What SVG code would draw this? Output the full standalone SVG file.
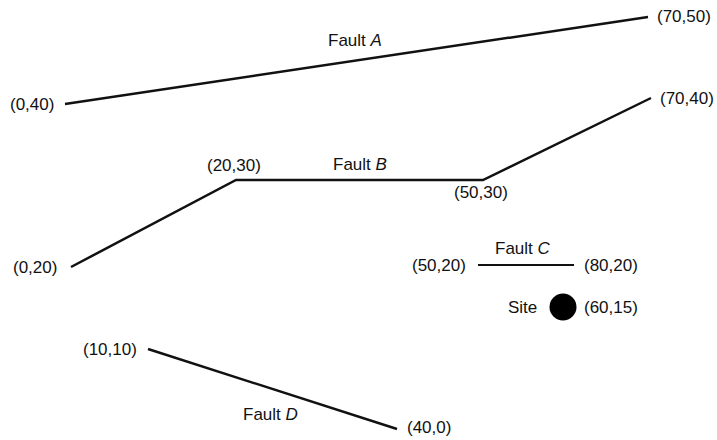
<svg xmlns="http://www.w3.org/2000/svg" width="717" height="440" viewBox="0 0 717 440">
<style>
text{font-family:"Liberation Sans",Arial,sans-serif;font-size:17px;fill:#111}
.i{font-style:italic}
.f{fill:none;stroke:#111;stroke-width:2.5;stroke-linejoin:miter;stroke-linecap:butt}
</style>
<rect width="717" height="440" fill="#fff"/>
<g id="connectors">
<path id="faultA" class="f" d="M65,104 L648,17"/>
<path id="faultB" class="f" d="M71,267 L236,180 L483,180 L651,98"/>
<path id="faultC" class="f" style="stroke-width:2" d="M478,265 L574,265"/>
<path id="faultD" class="f" d="M148,349 L397,429"/>
</g>
<g id="labelA"><text x="328" y="46">Fault <tspan class="i">A</tspan></text></g>
<g id="labelB"><text x="333" y="170">Fault <tspan class="i">B</tspan></text></g>
<g id="labelC"><text x="495" y="254">Fault <tspan class="i">C</tspan></text></g>
<g id="labelD"><text x="243" y="420">Fault <tspan class="i">D</tspan></text></g>
<g id="pA1"><text x="10" y="110">(0,40)</text></g>
<g id="pA2"><text x="657" y="22">(70,50)</text></g>
<g id="pB1"><text x="13" y="273">(0,20)</text></g>
<g id="pB2"><text x="207" y="171">(20,30)</text></g>
<g id="pB3"><text x="454" y="198">(50,30)</text></g>
<g id="pB4"><text x="660" y="104">(70,40)</text></g>
<g id="pC1"><text x="412" y="271">(50,20)</text></g>
<g id="pC2"><text x="584" y="271">(80,20)</text></g>
<g id="pD1"><text x="83" y="355">(10,10)</text></g>
<g id="pD2"><text x="407" y="433">(40,0)</text></g>
<g id="site"><circle cx="563" cy="307" r="13.5" fill="#000"/><text x="508" y="313">Site</text><text x="584" y="313">(60,15)</text></g>
</svg>
